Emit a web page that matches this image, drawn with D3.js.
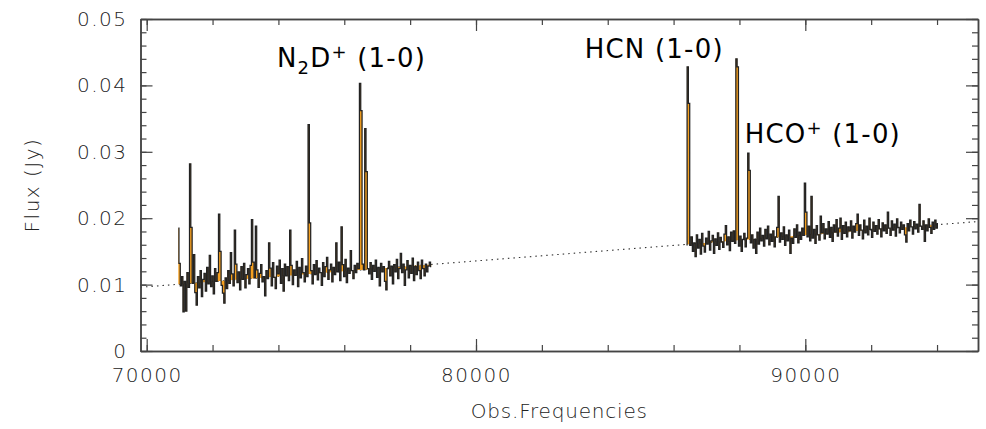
<!DOCTYPE html>
<html>
<head>
<meta charset="utf-8">
<script src="https://cdn.jsdelivr.net/npm/d3@7"></script>
<style>
  body { margin: 0; background: #fff; }
</style>
</head>
<body>
<div id="chart"></div>
<script>
// spectrum channels: start frequency + channel width (MHz), flux in Jy
var seg1Start = 70960, seg2Start = 86390, chanWidth = 40;

var seg1Flux = [
  0.0185, 0.0132, 0.0098, 0.0112, 0.0059, 0.0105, 0.0060, 0.0118, 0.0096, 0.0282, 0.0186, 0.0102,
  0.0145, 0.0088, 0.0069, 0.0112, 0.0095, 0.0121, 0.0082, 0.0108, 0.0117, 0.0090, 0.0126, 0.0101,
  0.0144, 0.0097, 0.0113, 0.0086, 0.0124, 0.0105, 0.0118, 0.0206, 0.0150, 0.0099, 0.0087, 0.0072,
  0.0110, 0.0094, 0.0121, 0.0102, 0.0148, 0.0116, 0.0098, 0.0182, 0.0131, 0.0103, 0.0119, 0.0092,
  0.0127, 0.0108, 0.0132, 0.0095, 0.0115, 0.0124, 0.0101, 0.0129, 0.0198, 0.0134, 0.0110, 0.0188,
  0.0122, 0.0096, 0.0117, 0.0130, 0.0104, 0.0112, 0.0083, 0.0121, 0.0109, 0.0163, 0.0125, 0.0098,
  0.0133, 0.0111, 0.0094, 0.0128, 0.0116, 0.0137, 0.0102, 0.0124, 0.0090, 0.0131, 0.0113, 0.0127,
  0.0106, 0.0182, 0.0129, 0.0100, 0.0122, 0.0114, 0.0135, 0.0097, 0.0126, 0.0110, 0.0139, 0.0118,
  0.0104, 0.0128, 0.0112, 0.0341, 0.0193, 0.0121, 0.0101, 0.0130, 0.0115, 0.0136, 0.0107, 0.0125,
  0.0118, 0.0099, 0.0133, 0.0112, 0.0127, 0.0141, 0.0108, 0.0122, 0.0131, 0.0104, 0.0126, 0.0115,
  0.0163, 0.0119, 0.0134, 0.0106, 0.0187, 0.0130, 0.0112, 0.0138, 0.0103, 0.0125, 0.0117, 0.0151,
  0.0121, 0.0109, 0.0129, 0.0118, 0.0132, 0.0124, 0.0403, 0.0362, 0.0131, 0.0122, 0.0335, 0.0270,
  0.0124, 0.0116, 0.0133, 0.0108, 0.0129, 0.0120, 0.0137, 0.0111, 0.0126, 0.0098, 0.0132, 0.0119,
  0.0127, 0.0105, 0.0092, 0.0124, 0.0135, 0.0113, 0.0128, 0.0101, 0.0130, 0.0119, 0.0138, 0.0109,
  0.0124, 0.0147, 0.0118, 0.0131, 0.0099, 0.0122, 0.0136, 0.0110, 0.0129, 0.0117, 0.0140, 0.0106,
  0.0127, 0.0115, 0.0134, 0.0121, 0.0109, 0.0137, 0.0124, 0.0113, 0.0131, 0.0119, 0.0128, 0.0134,
  0.0127
];

var seg2Flux = [
  0.0160, 0.0428, 0.0373, 0.0159, 0.0172, 0.0150, 0.0163, 0.0142, 0.0175, 0.0155, 0.0168, 0.0146,
  0.0177, 0.0158, 0.0149, 0.0170, 0.0161, 0.0180, 0.0152, 0.0166, 0.0174, 0.0147, 0.0169, 0.0159,
  0.0178, 0.0153, 0.0171, 0.0164, 0.0156, 0.0176, 0.0189, 0.0160, 0.0172, 0.0151, 0.0179, 0.0165,
  0.0181, 0.0162, 0.0440, 0.0428, 0.0158, 0.0173, 0.0150, 0.0168, 0.0177, 0.0157, 0.0170, 0.0298,
  0.0272, 0.0163, 0.0175, 0.0155, 0.0168, 0.0147, 0.0179, 0.0161, 0.0185, 0.0166, 0.0174, 0.0158,
  0.0183, 0.0169, 0.0188, 0.0160, 0.0176, 0.0165, 0.0181, 0.0157, 0.0172, 0.0186, 0.0233, 0.0164,
  0.0178, 0.0168, 0.0187, 0.0159, 0.0175, 0.0166, 0.0182, 0.0147, 0.0170, 0.0162, 0.0184, 0.0171,
  0.0190, 0.0163, 0.0179, 0.0168, 0.0185, 0.0174, 0.0253, 0.0209, 0.0172, 0.0188, 0.0166, 0.0233,
  0.0170, 0.0183, 0.0162, 0.0189, 0.0175, 0.0167, 0.0203, 0.0178, 0.0192, 0.0169, 0.0184, 0.0176,
  0.0195, 0.0171, 0.0186, 0.0165, 0.0190, 0.0179, 0.0198, 0.0173, 0.0185, 0.0200, 0.0168, 0.0189,
  0.0177, 0.0194, 0.0172, 0.0187, 0.0181, 0.0196, 0.0170, 0.0188, 0.0179, 0.0192, 0.0206, 0.0174,
  0.0190, 0.0182, 0.0169, 0.0197, 0.0178, 0.0188, 0.0175, 0.0200, 0.0183, 0.0171, 0.0194, 0.0180,
  0.0189, 0.0176, 0.0198, 0.0184, 0.0172, 0.0193, 0.0181, 0.0190, 0.0177, 0.0209, 0.0185, 0.0174,
  0.0196, 0.0182, 0.0191, 0.0173, 0.0199, 0.0186, 0.0178, 0.0194, 0.0183, 0.0190, 0.0175, 0.0164,
  0.0192, 0.0181, 0.0197, 0.0187, 0.0176, 0.0195, 0.0184, 0.0191, 0.0179, 0.0221, 0.0188, 0.0183,
  0.0196, 0.0165, 0.0190, 0.0181, 0.0199, 0.0186, 0.0177, 0.0194, 0.0183, 0.0197, 0.0185, 0.0192
];

// continuum (dotted line)
var contFreq = [69812, 95244];
var contFlux = [0.0096, 0.0195];

var xMajor = [70000, 80000, 90000];
var xMinor = d3.range(70000, 95001, 2000);
var yMajor = [0, 0.01, 0.02, 0.03, 0.04, 0.05];
var yMinor = d3.range(0, 0.0501, 0.002);

// line labels
var labelNames = ["N", "HCN", "HCO"];
var labelSub = ["2D", "", ""];
var labelSup = ["+", "", "+"];
var labelTrans = [" (1-0)", " (1-0)", " (1-0)"];
var labelFreq = [73955, 83303, 88159];
var labelFlux = [0.0427, 0.0442, 0.0314];

var W = 986, H = 429;
var margin = {top: 19, right: 8, bottom: 78, left: 140.5};
var width = W - margin.left - margin.right,
    height = H - margin.top - margin.bottom;

var svg = d3.select("#chart")
  .append("svg")
    .attr("width", W)
    .attr("height", H)
  .append("g")
    .attr("transform", "translate(" + margin.left + "," + margin.top + ")");

var x = d3.scaleLinear().domain([contFreq[0], contFreq[1]]).range([0, width]);
var y = d3.scaleLinear().domain([0, 0.05]).range([height, 0]);
var cont = d3.scaleLinear().domain(contFreq).range(contFlux);

svg.append("clipPath").attr("id", "clip")
  .append("rect").attr("width", width).attr("height", height);

var plot = svg.append("g").attr("clip-path", "url(#clip)");

// dotted continuum
plot.append("path")
  .datum(contFreq.map(function(f, i) { return [f, contFlux[i]]; }))
  .attr("fill", "none")
  .attr("stroke", "#333")
  .attr("stroke-width", 1.1)
  .attr("stroke-dasharray", "1.5,4")
  .attr("d", d3.line().x(function(d) { return x(d[0]); }).y(function(d) { return y(d[1]); }));

var segs = [
  seg1Flux.map(function(v, i) { return [seg1Start + i * chanWidth, v]; }),
  seg2Flux.map(function(v, i) { return [seg2Start + i * chanWidth, v]; })
];

var area = d3.area()
  .curve(d3.curveStep)
  .x(function(d) { return x(d[0]); })
  .y0(function(d) { return y(cont(d[0])); })
  .y1(function(d) { return y(d[1]); });

var line = d3.line()
  .curve(d3.curveStep)
  .x(function(d) { return x(d[0]); })
  .y(function(d) { return y(d[1]); });

plot.selectAll("path.fill")
  .data(segs)
  .enter().append("path")
    .attr("class", "fill")
    .attr("fill", "#f5a020")
    .attr("d", area);

plot.selectAll("path.spec")
  .data(segs)
  .enter().append("path")
    .attr("class", "spec")
    .attr("fill", "none")
    .attr("stroke", "#222")
    .attr("stroke-width", 1.25)
    .attr("stroke-linejoin", "miter")
    .attr("d", line);

// axes, ticks pointing inward on all four sides
function styleAxis(g) {
  g.selectAll(".domain").attr("stroke", "#444").attr("stroke-width", 1.5);
  g.selectAll(".tick line").attr("stroke", "#444").attr("stroke-width", 1.2);
  g.selectAll(".tick text")
    .attr("fill", "#222")
    .style("font-family", "'DejaVu Sans', sans-serif")
    .style("font-weight", "200")
    .style("font-size", "20px")
    .style("letter-spacing", "1.5px");
}

svg.append("g").attr("transform", "translate(0," + height + ")")
  .call(d3.axisBottom(x).tickValues(xMinor).tickSize(-6).tickSizeOuter(0).tickFormat(""))
  .call(styleAxis);
svg.append("g").attr("transform", "translate(0," + height + ")")
  .call(d3.axisBottom(x).tickValues(xMajor).tickSize(-12).tickSizeOuter(0).tickPadding(17).tickFormat(d3.format("d")))
  .call(styleAxis);
svg.append("g")
  .call(d3.axisTop(x).tickValues(xMinor).tickSize(-6).tickSizeOuter(0).tickFormat(""))
  .call(styleAxis);
svg.append("g")
  .call(d3.axisTop(x).tickValues(xMajor).tickSize(-12).tickSizeOuter(0).tickFormat(""))
  .call(styleAxis);
svg.append("g")
  .call(d3.axisLeft(y).tickValues(yMinor).tickSize(-6).tickSizeOuter(0).tickFormat(""))
  .call(styleAxis);
svg.append("g")
  .call(d3.axisLeft(y).tickValues(yMajor).tickSize(-12).tickSizeOuter(0).tickPadding(13)
    .tickFormat(function(d) { return d === 0 ? "0" : d.toFixed(2); }))
  .call(styleAxis);
svg.append("g").attr("transform", "translate(" + width + ",0)")
  .call(d3.axisRight(y).tickValues(yMinor).tickSize(-6).tickSizeOuter(0).tickFormat(""))
  .call(styleAxis);
svg.append("g").attr("transform", "translate(" + width + ",0)")
  .call(d3.axisRight(y).tickValues(yMajor).tickSize(-12).tickSizeOuter(0).tickFormat(""))
  .call(styleAxis);

// axis titles
svg.append("text")
  .attr("x", width / 2)
  .attr("y", height + 67)
  .attr("text-anchor", "middle")
  .attr("fill", "#222")
  .style("font-family", "'DejaVu Sans', sans-serif")
  .style("font-weight", "200")
  .style("font-size", "20px")
  .style("letter-spacing", "0.8px")
  .text("Obs.Frequencies");

svg.append("text")
  .attr("transform", "translate(" + (-102) + "," + (height / 2) + ") rotate(-90)")
  .attr("text-anchor", "middle")
  .attr("fill", "#222")
  .style("font-family", "'DejaVu Sans', sans-serif")
  .style("font-weight", "200")
  .style("font-size", "20px")
  .style("letter-spacing", "1.5px")
  .text("Flux (Jy)");

// line labels
labelNames.forEach(function(name, i) {
  var t = svg.append("text")
    .attr("x", x(labelFreq[i]))
    .attr("y", y(labelFlux[i]))
    .attr("fill", "#000")
    .style("font-family", "'DejaVu Sans', sans-serif")
    .style("font-size", "26px")
    .style("letter-spacing", "1.2px");
  t.append("tspan").text(name);
  if (labelSub[i]) {
    t.append("tspan").attr("dy", 7).style("font-size", "18px").text(labelSub[i].charAt(0));
    t.append("tspan").attr("dy", -7).text(labelSub[i].slice(1));
  }
  if (labelSup[i]) {
    t.append("tspan").attr("dy", -9).style("font-size", "18px").text(labelSup[i]);
    t.append("tspan").attr("dy", 9).text(labelTrans[i]);
  } else {
    t.append("tspan").text(labelTrans[i]);
  }
});
</script>
</body>
</html>
